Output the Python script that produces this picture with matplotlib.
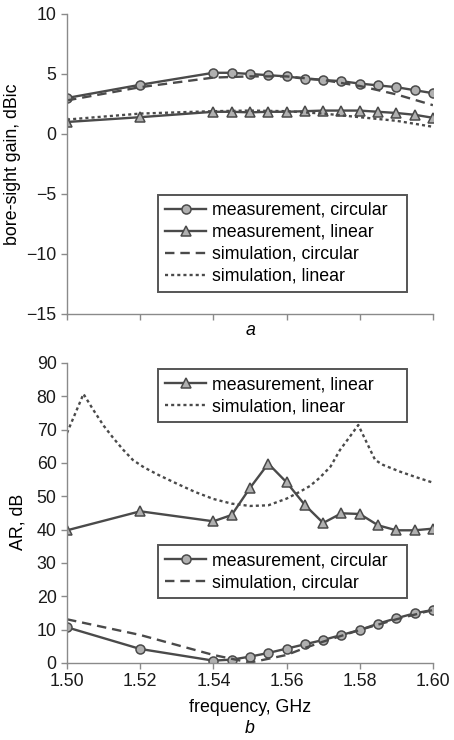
import matplotlib
matplotlib.use("Agg")
import matplotlib.pyplot as plt

plt.rcParams["font.family"] = ["Liberation Sans", "DejaVu Sans"]
plt.rcParams["font.size"] = 12.8
plt.rcParams["axes.unicode_minus"] = True

# measured frequencies (GHz)
freq_meas = [1.50, 1.52, 1.54, 1.545, 1.55, 1.555, 1.56, 1.565, 1.57,
             1.575, 1.58, 1.585, 1.59, 1.595, 1.60]

# (a) bore-sight gain, dBic
gain_meas_circ = [3.0, 4.1, 5.1, 5.1, 5.0, 4.9, 4.8, 4.6, 4.5, 4.4, 4.2,
                  4.05, 3.9, 3.65, 3.4]
gain_meas_lin = [1.0, 1.4, 1.85, 1.85, 1.8, 1.85, 1.85, 1.9, 1.95, 1.95,
                 1.95, 1.85, 1.75, 1.6, 1.35]
freq_sim_gain = [1.50, 1.52, 1.54, 1.55, 1.56, 1.57, 1.58, 1.59, 1.60]
gain_sim_circ = [2.8, 3.9, 4.7, 4.8, 4.8, 4.5, 4.0, 3.3, 2.4]
gain_sim_lin = [1.2, 1.7, 1.9, 1.95, 1.9, 1.7, 1.4, 1.1, 0.6]

# (b) axial ratio, dB
ar_meas_lin = [39.8, 45.5, 42.5, 44.4, 52.5, 59.8, 54.2, 47.4, 42.0, 44.9,
               44.7, 41.3, 39.8, 39.8, 40.3]
ar_meas_circ = [10.7, 4.2, 0.7, 1.0, 1.9, 3.0, 4.3, 5.6, 6.9, 8.4, 9.9,
                11.8, 13.4, 14.9, 15.9]
freq_sim_ar_lin = [1.500, 1.5045, 1.5072, 1.510, 1.5127, 1.5154, 1.518,
                   1.521, 1.525, 1.530, 1.535, 1.540, 1.545, 1.550, 1.555,
                   1.560, 1.5637, 1.5664, 1.569, 1.572, 1.5746, 1.5773,
                   1.5796, 1.582, 1.5842, 1.5864, 1.591, 1.5955, 1.600]
ar_sim_lin = [69.0, 80.7, 75.9, 71.2, 67.4, 63.9, 60.9, 58.7, 56.4, 53.8,
              51.3, 49.2, 47.8, 47.1, 47.3, 49.3, 51.4, 53.1, 55.5, 58.9,
              63.9, 67.9, 71.4, 65.9, 60.9, 59.4, 57.4, 55.7, 54.1]
freq_sim_ar_circ = [1.50, 1.52, 1.54, 1.55, 1.56, 1.565, 1.57, 1.58, 1.59,
                    1.60]
ar_sim_circ = [13.1, 8.4, 2.4, 0.1, 2.4, 4.5, 6.4, 9.9, 13.1, 15.9]

xticks = [1.50, 1.52, 1.54, 1.56, 1.58, 1.60]

line_c = "#4a4a4a"
mfc = "#b0b0b0"
spine_c = "#8a8a8a"
dashed = (0, (4, 2.5))
dotted = (0, (1.3, 1.3))

meas_kw = dict(color=line_c, lw=1.7, markersize=6.5, mfc=mfc, mec=line_c,
               mew=1.1)

fig = plt.figure(figsize=(4.54, 7.40), dpi=100)
ax1 = fig.add_axes([0.1476, 0.5757, 0.806, 0.4054])
ax2 = fig.add_axes([0.1476, 0.1041, 0.806, 0.4054])

for ax in (ax1, ax2):
    for s in ("top", "right"):
        ax.spines[s].set_visible(False)
    for s in ("left", "bottom"):
        ax.spines[s].set_color(spine_c)
        ax.spines[s].set_linewidth(1.0)
    ax.tick_params(colors=spine_c, labelcolor="#1a1a1a", length=4,
                   width=1.0, labelsize=12.8)
    ax.set_xlim(1.50, 1.60)
    ax.set_xticks(xticks)

leg_kw = dict(fancybox=False, edgecolor="#555555", framealpha=1,
              borderaxespad=0, handlelength=2.3, handletextpad=0.35,
              labelspacing=0.28, borderpad=0.4, fontsize=12.8,
              mode="expand")

# --- (a) ---
ax1.plot(freq_meas, gain_meas_circ, marker="o", label="measurement, circular",
         **meas_kw)
ax1.plot(freq_meas, gain_meas_lin, marker="^", label="measurement, linear",
         **meas_kw)
ax1.plot(freq_sim_gain, gain_sim_circ, color=line_c, lw=1.7, ls=dashed,
         label="simulation, circular")
ax1.plot(freq_sim_gain, gain_sim_lin, color=line_c, lw=1.7, ls=dotted,
         label="simulation, linear")
ax1.set_ylim(-15, 10)
ax1.set_yticks([-15, -10, -5, 0, 5, 10])
ax1.set_xticklabels([])
ax1.set_ylabel("bore-sight gain, dBic")
ax1.yaxis.set_label_coords(-0.125, 0.5)

lg = ax1.legend(loc="upper left", bbox_to_anchor=(0.249, 0.063, 0.68, 0.334),
                **leg_kw)
lg.get_frame().set_linewidth(1.4)

# --- (b) ---
l1, = ax2.plot(freq_meas, ar_meas_lin, marker="^", label="measurement, linear",
               **meas_kw)
l2, = ax2.plot(freq_sim_ar_lin, ar_sim_lin, color=line_c, lw=1.7, ls=dotted,
               label="simulation, linear")
l3, = ax2.plot(freq_meas, ar_meas_circ, marker="o",
               label="measurement, circular", **meas_kw)
l4, = ax2.plot(freq_sim_ar_circ, ar_sim_circ, color=line_c, lw=1.7, ls=dashed,
               label="simulation, circular")
ax2.set_ylim(0, 90)
ax2.set_yticks(range(0, 91, 10))
ax2.set_xticklabels([f"{t:.2f}" for t in xticks])
ax2.set_xlabel("frequency, GHz", labelpad=6)
ax2.set_ylabel("AR, dB")
ax2.yaxis.set_label_coords(-0.11, 0.47)

lgA = ax2.legend(handles=[l1, l2], loc="upper left",
                 bbox_to_anchor=(0.249, 0.80, 0.68, 0.18), **leg_kw)
lgA.get_frame().set_linewidth(1.4)
ax2.add_artist(lgA)
lgB = ax2.legend(handles=[l3, l4], loc="upper left",
                 bbox_to_anchor=(0.249, 0.22, 0.68, 0.173), **leg_kw)
lgB.get_frame().set_linewidth(1.4)

fig.text(0.551, 0.553, "a", ha="center", va="center", style="italic",
         fontsize=12.8)
fig.text(0.551, 0.015, "b", ha="center", va="center", style="italic",
         fontsize=12.8)

fig.savefig("out.png", dpi=100)
